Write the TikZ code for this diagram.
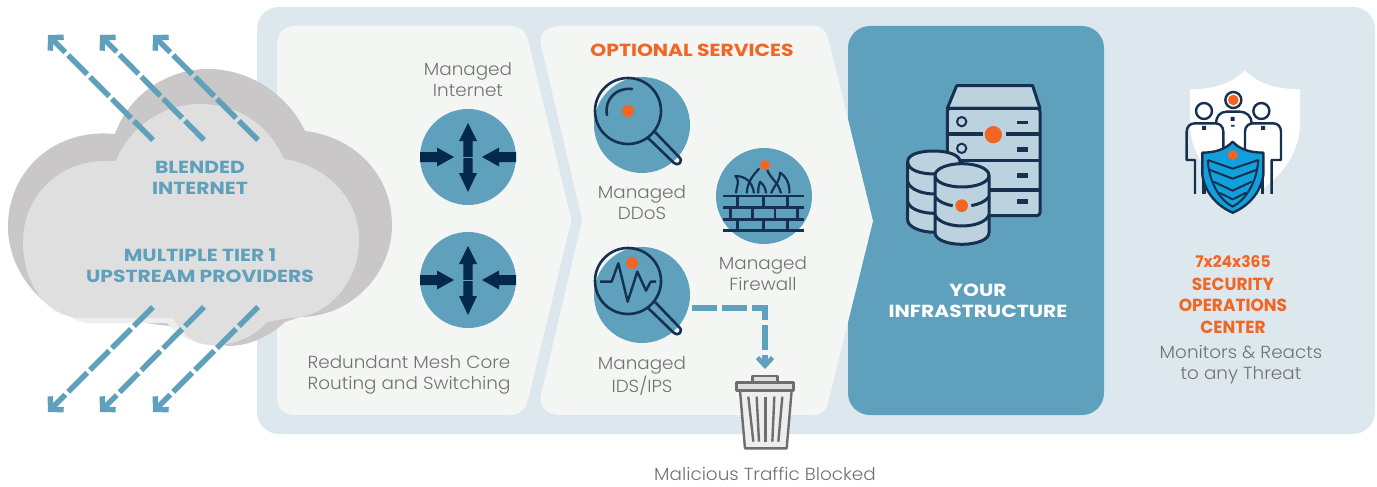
\documentclass[tikz,border=0pt]{standalone}
\usepackage{fontspec}
\setmainfont{Poppins}[UprightFont=* Light,BoldFont=* SemiBold]
\newfontfamily\widereg{Poppins}[UprightFont=* Light,BoldFont=* SemiBold,FakeStretch=1.05]
\newfontfamily\widebold{Poppins}[UprightFont=* Bold,FakeStretch=1.16]
\newfontfamily\plainbold{Poppins}[UprightFont=* Bold,FakeStretch=0.97]
\usetikzlibrary{arrows.meta}
\definecolor{panelbg}{HTML}{DCE7EE}
\definecolor{panellt}{HTML}{F4F6F4}
\definecolor{teal}{HTML}{5FA1BC}
\definecolor{navy}{HTML}{16304F}
\definecolor{deep}{HTML}{04294A}
\definecolor{orng}{HTML}{F26522}
\definecolor{greytxt}{HTML}{727272}
\definecolor{cloudd}{HTML}{C9C7C8}
\definecolor{cloudl}{HTML}{DFDFE0}
\definecolor{cloudx}{HTML}{EEEEEE}
\definecolor{srv}{HTML}{BCD3DF}
\definecolor{shieldb}{HTML}{12A0DC}
\definecolor{trashg}{HTML}{6E6E6E}
\tikzset{
  x=1pt,y=-1pt,
  disc/.style={circle,fill=teal,minimum size=96pt,inner sep=0pt},
  zs/.style={x=0.33333pt,y=-0.33333pt},
  lbl/.style={text=greytxt,align=center,font=\widereg\fontsize{17.5}{21}\selectfont,inner sep=0pt},
  hdr/.style={text=teal,align=center,font=\widebold\fontsize{17.5}{21}\selectfont,inner sep=0pt},
  org/.style={text=orng,align=center,font=\plainbold\fontsize{17.5}{21.5}\selectfont,inner sep=0pt},
  dashflow/.style={draw=teal,line width=5.4pt,dash pattern=on 27pt off 4pt,
    -{Straight Barb[length=9pt,width=19pt,line width=5.4pt]}},
  trashline/.style={draw=trashg,line width=2.4pt,line join=round},
  ic/.style={draw=navy,line width=2.6pt,line join=round},
  arrowfill/.style={fill=deep,draw=none}
}
\newcommand{\routerarrows}[1]{%
  \begin{scope}[shift={(#1)}]
    \fill[arrowfill] (-4.7,0) -- (-4.7,-16) -- (-9,-16) -- (0,-34) -- (9,-16) -- (4.7,-16) -- (4.7,16) -- (9,16) -- (0,35) -- (-9,16) -- (-4.7,16) -- cycle;
    \fill[arrowfill] (-48,-5) -- (-31,-5) -- (-31,-9.5) -- (-14,0) -- (-31,9.5) -- (-31,5) -- (-48,5) -- cycle;
    \fill[arrowfill] (48,-5) -- (31,-5) -- (31,-9.5) -- (14,0) -- (31,9.5) -- (31,5) -- (48,5) -- cycle;
    \draw[teal,line width=.4pt] (-4.7,0) -- (4.7,0);
  \end{scope}}
\newcommand{\lens}[1]{%
  \begin{scope}[shift={(#1)}]
    \draw[ic] (0,0) circle[radius=33];
    \draw[ic] (20,27) -- (46,52) .. controls (50,56) and (56,50) .. (51,46) -- (27,21);
  \end{scope}}
\begin{document}
\begin{tikzpicture}
\useasboundingbox (0,0) rectangle (1377,487);
\fill[white] (0,0) rectangle (1377,487);
% backgrounds
\fill[panelbg,rounded corners=22pt] (257,7) rectangle (1375,434);
\fill[panellt] (295,26) -- (510,26) .. controls (520,26) and (526,32) .. (528,40) -- (570,214) .. controls (572,218) and (572,222) .. (570,226) -- (528,400) .. controls (526,409) and (520,415) .. (510,415) -- (295,415) .. controls (284,415) and (277,408) .. (277,397) -- (277,44) .. controls (277,33) and (284,26) .. (295,26) -- cycle;
\fill[teal,rounded corners=22pt] (848,26) rectangle (1104,415);
\fill[panellt] (560,26) -- (815,26) .. controls (822,26) and (826,31) .. (828,38) -- (873,221) -- (828,403) .. controls (826,410) and (822,415) .. (815,415) -- (560,415) .. controls (546,415) and (538,405) .. (541,395) -- (581,225) .. controls (582,222) and (582,218) .. (581,215) -- (541,45) .. controls (538,35) and (546,26) .. (560,26) -- cycle;
% cloud
\fill[cloudd] (115,134) .. controls (130,92) and (170,69) .. (208,69) .. controls (250,69) and (288,95) .. (305,131) .. controls (355,137) and (392,175) .. (392,225) .. controls (392,275) and (350,317) .. (300,317) -- (285,322) .. controls (270,336) and (250,346) .. (227,346) -- (200,330) -- (60,312) .. controls (30,296) and (8,262) .. (8,227) .. controls (8,170) and (55,128) .. (115,134) -- cycle;
\fill[cloudx] (45,296) .. controls (60,312) and (75,323) .. (90,323) -- (167,323) .. controls (180,338) and (198,346) .. (222,346) -- (222,320) -- cycle;
\fill[cloudl] (116,161) .. controls (130,125) and (165,104) .. (200,104) .. controls (240,104) and (270,127) .. (284,159) .. controls (325,165) and (359,197) .. (359,240) .. controls (359,285) and (325,318) .. (290,318) -- (267,322) .. controls (252,338) and (235,345) .. (213,345) .. controls (195,345) and (182,335) .. (173,318) -- (83,318) .. controls (45,318) and (23,282) .. (23,242) .. controls (23,195) and (60,161) .. (105,161) -- cycle;
\node[hdr] (blended) at (200,178) {BLENDED\\INTERNET};
\node[hdr] (tier) at (200,265.5) {MULTIPLE TIER 1\\UPSTREAM PROVIDERS};
% cloud arrows
\foreach \n/\tx/\hx in {a/153/48,b/204/100,c/258/153}{
  \coordinate (top\n tail) at (\tx,140);
  \coordinate (top\n tip) at (\hx,35);
  \coordinate (bot\n tail) at (\tx,307);
  \coordinate (bot\n tip) at (\hx,412);
  \draw[dashflow] (top\n tail) -- (top\n tip);
  \draw[dashflow] (bot\n tail) -- (bot\n tip);
}
% routers
\node[lbl] (minet) at (468,79.5) {Managed\\Internet};
\node[disc] (r1) at (468,157) {};
\node[disc] (r2) at (468,280) {};
\routerarrows{468,157}
\routerarrows{468,280}
\node[lbl] (mesh) at (409,375) {Redundant Mesh Core\\Routing and Switching};
% optional services
\node[text=orng,font=\widebold\fontsize{17.5}{21}\selectfont,inner sep=0pt] (opt) at (692,50) {OPTIONAL SERVICES};
\node[disc] (ddos) at (642,125) {};
\node[disc] (ids) at (642,295) {};
\node[disc] (fw) at (764,196) {};
\lens{628,111}
\lens{628,281}
\fill[orng] (628,111) circle[radius=6];
\draw[ic,line cap=round] (607,115) .. controls (604,100) and (616,87) .. (632,89);
\fill[orng] (632,263) circle[radius=6];
\begin{scope}[shift={(580,240)},zs]
  \draw[ic,line width=2.4pt] (60,125) -- (95,125) -- (115,70) -- (143,185) -- (172,95) -- (198,152) -- (212,125) -- (228,125);
\end{scope}
\begin{scope}[shift={(580,70)},zs]
  \foreach \yy in {378,412,448,481} \draw[navy,line width=2.8pt] (430,\yy) -- (672,\yy);
  \foreach \xx in {472,550,622} {\draw[navy,line width=2.5pt] (\xx,378) -- (\xx,412); \draw[navy,line width=2.5pt] (\xx,448) -- (\xx,481);}
  \foreach \xx in {451,517,585,652} \draw[navy,line width=2.5pt] (\xx,412) -- (\xx,448);
  \draw[ic,line width=2.2pt] (468,370) .. controls (468,350) and (482,335) .. (466,318) .. controls (495,318) and (518,335) .. (522,370);
  \draw[ic,line width=2.2pt] (500,370) .. controls (502,335) and (520,315) .. (538,295);
  \draw[ic,line width=2.2pt] (535,370) .. controls (533,355) and (538,345) .. (540,335) .. controls (552,345) and (558,358) .. (558,370);
  \draw[ic,line width=2.2pt] (562,300) .. controls (570,325) and (595,335) .. (603,370);
  \draw[ic,line width=2.2pt] (573,370) .. controls (580,350) and (600,335) .. (600,308) .. controls (620,320) and (630,345) .. (628,370);
  \fill[orng] (555,285) circle[radius=15];
\end{scope}
\node[lbl] (mddos) at (642,203) {Managed\\DDoS};
\node[lbl] (mfw) at (763,273.5) {Managed\\Firewall};
\node[lbl] (mids) at (642,376) {Managed\\IDS/IPS};
% trash
\begin{scope}[shift={(580,240)},zs]
  \coordinate (trash) at (557,404);
  \draw[trashline,fill=cloudl] (518,428) -- (518,408) -- (593,408) -- (593,428);
  \draw[trashline,fill=cloudx] (480,452) -- (495,625) -- (620,625) -- (635,452) -- cycle;
  \draw[trashline,fill=cloudl] (470,428) rectangle (640,452);
  \foreach \a/\b in {505/520,530/537,557/557,583/577,607/595}
    \draw[trashline] (\a,470) -- (\b,605);
\end{scope}
\coordinate (idsout) at (692,308);
\coordinate (idscorner) at (765,308);
\coordinate (trashin) at (765,369);
\draw[dashflow,dash pattern=on 25pt off 5pt,-{Straight Barb[length=8pt,width=15pt,line width=4.6pt]}] (idsout) -- (idscorner) -- (trashin);
\node[lbl] (blocked) at (765,473.5) {Malicious Traffic Blocked};
% infrastructure
\begin{scope}[shift={(890,70)},zs]
  \draw[ic,fill=srv,line width=3pt] (172,115) -- (200,47) -- (428,47) -- (450,115) -- cycle;
  \draw[ic,fill=srv,line width=3pt,rounded corners=3pt] (172,115) rectangle (450,437);
  \draw[navy,line width=4.5pt] (172,192) -- (278,192) (348,192) -- (450,192);
  \draw[navy,line width=3pt] (172,272) -- (450,272);
  \draw[navy,line width=4.5pt] (172,360) -- (450,360);
  \draw[ic,line width=2pt] (215,155) circle[radius=14] (215,235) circle[radius=14];
  \fill[navy] (382,153) rectangle (414,162);
  \fill[navy] (382,231) rectangle (414,245);
  \fill[navy] (382,309) rectangle (414,323);
  \fill[navy] (382,387) rectangle (414,401);
  \fill[orng] (310,194) circle[radius=26];
  % left cylinder
  \draw[ic,fill=srv,line width=3pt] (53,275) -- (53,450) .. controls (53,470) and (90,487) .. (135,487) -- (210,487) -- (210,275) .. controls (210,255) and (175,243) .. (130,243) .. controls (85,243) and (53,255) .. (53,275) -- cycle;
  \draw[ic,line width=3pt] (53,275) .. controls (53,300) and (90,312) .. (135,312);
  \draw[ic,line width=3pt] (53,335) .. controls (60,360) and (100,372) .. (135,372);
  \draw[ic,line width=3pt] (53,395) .. controls (60,420) and (100,430) .. (135,430);
  % right cylinder
  \draw[ic,fill=srv,line width=3pt] (135,316) -- (135,488) .. controls (135,510) and (175,523) .. (216,523) .. controls (257,523) and (297,510) .. (297,488) -- (297,316) .. controls (297,295) and (257,281) .. (216,281) .. controls (175,281) and (135,295) .. (135,316) -- cycle;
  \draw[ic,line width=3pt] (135,316) .. controls (135,338) and (175,351) .. (216,351) .. controls (257,351) and (297,338) .. (297,316);
  \draw[ic,line width=3pt] (135,380) .. controls (145,395) and (165,403) .. (188,407);
  \draw[ic,line width=3pt] (244,407) .. controls (265,403) and (287,395) .. (297,380);
  \draw[ic,line width=3pt] (135,435) .. controls (145,458) and (185,468) .. (216,468) .. controls (250,468) and (287,458) .. (297,435);
  \fill[orng] (215,407) circle[radius=19];
\end{scope}
\node[text=white,align=center,font=\widebold\fontsize{17.5}{21}\selectfont,inner sep=0pt] (infra) at (978,300.5) {YOUR\\INFRASTRUCTURE};
% SOC
\begin{scope}[shift={(1170,60)},zs]
  \fill[white] (224,30) .. controls (260,70) and (320,88) .. (390,88) -- (390,190) .. controls (390,290) and (320,370) .. (224,420) .. controls (130,370) and (60,290) .. (60,190) -- (60,88) .. controls (130,88) and (190,70) .. (224,30) -- cycle;
  \draw[ic,line width=2.4pt,fill=white] (102,153) circle[radius=24];
  \draw[ic,line width=2.4pt,fill=white] (274,153) circle[radius=24];
  \draw[ic,line width=2.4pt,fill=white] (190,120) circle[radius=24];
  \fill[orng] (190,120) circle[radius=16];
  \draw[ic,line width=2.4pt] (138,190) .. controls (138,170) and (150,155) .. (170,155) -- (210,155) .. controls (230,155) and (245,170) .. (245,190);
  \draw[ic,line width=2.4pt] (75,402) -- (75,300) -- (50,300) -- (50,215) .. controls (50,200) and (60,190) .. (75,190) -- (135,190) .. controls (150,190) and (160,200) .. (160,215) -- (160,280);
  \draw[ic,line width=2.4pt] (305,402) -- (305,300) -- (333,300) -- (333,215) .. controls (333,200) and (323,190) .. (310,190) -- (250,190) .. controls (235,190) and (225,200) .. (225,215) -- (225,280);
  \draw[ic,line width=3.4pt] (102,402) -- (102,335);
  \draw[ic,line width=3.4pt] (278,402) -- (278,315);
  \fill[navy] (96,198) rectangle (108,210) (273,198) rectangle (285,210) (182,171) rectangle (194,183) (183,195) rectangle (194,200);
  \draw[ic,line width=2.4pt,fill=shieldb] (188,245) .. controls (165,270) and (130,278) .. (97,278) -- (97,345) .. controls (105,400) and (145,440) .. (188,458) .. controls (232,440) and (272,400) .. (280,345) -- (280,278) .. controls (245,278) and (210,270) .. (188,245) -- cycle;
  \draw[ic,line width=2pt] (113,300) -- (188,326) -- (265,300);
  \draw[ic,line width=2pt] (120,330) -- (188,356) -- (258,330);
  \draw[ic,line width=2pt] (130,365) -- (188,392) -- (245,365);
  \draw[ic,line width=2pt] (148,398) -- (188,418) -- (228,398);
  \draw[ic,line width=2pt] (113,300) .. controls (118,370) and (150,420) .. (188,440) .. controls (226,420) and (260,370) .. (265,300);
  \fill[orng] (188,285) circle[radius=15];
\end{scope}
\node[org] (soc) at (1233,294.5) {{\fontsize{16}{21.5}\selectfont 7x24x365}\\[1pt]SECURITY\\OPERATIONS\\CENTER};
\node[lbl] (mon) at (1241,364.5) {Monitors \& Reacts\\to any Threat};
\end{tikzpicture}
\end{document}
